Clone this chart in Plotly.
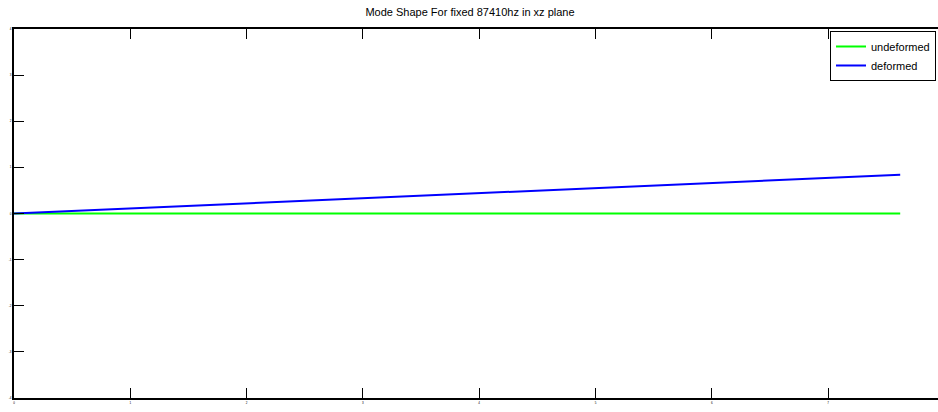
import plotly.graph_objects as go

# data
x_pos = [0.0, 3.81, 7.62]
undeformed = [0.0, 0.0, 0.0]
deformed = [0.0, 0.42, 0.84]
x_ticks = [0, 1, 2, 3, 4, 5, 6, 7]
y_ticks = [-4, -3, -2, -1, 0, 1, 2, 3, 4]

fig = go.Figure()
fig.add_trace(go.Scatter(x=x_pos, y=undeformed, mode="lines", name="undeformed",
                         line=dict(color="#00ff00", width=2)))
fig.add_trace(go.Scatter(x=x_pos, y=deformed, mode="lines", name="deformed",
                         line=dict(color="#0000ff", width=2)))

W, H = 938, 412
fig.update_layout(
    width=W, height=H,
    margin=dict(l=14, r=0, t=29, b=14, autoexpand=False),
    paper_bgcolor="white", plot_bgcolor="white",
    font=dict(family="Liberation Sans, Arial, sans-serif", color="black", size=11),
    title=dict(text="Mode Shape For fixed 87410hz in xz plane", x=470 / W, xanchor="center",
               y=1 - 12 / H, yanchor="middle", font=dict(size=11, color="black")),
    showlegend=True,
    legend=dict(x=(830 - 14) / 924, xanchor="left", y=0.9946, yanchor="top",
                bordercolor="black", borderwidth=1, bgcolor="white",
                font=dict(size=11), tracegroupgap=0),
    xaxis=dict(range=[0, 7.945], tickvals=x_ticks, ticktext=[str(v) for v in x_ticks],
               ticks="inside", ticklen=10, tickcolor="black", tickwidth=1,
               showline=True, linecolor="black", linewidth=2, mirror="ticks",
               showgrid=False, zeroline=False, tickfont=dict(size=3, color="black")),
    yaxis=dict(range=[-4, 4], tickvals=y_ticks, ticktext=[str(v) for v in y_ticks],
               ticks="inside", ticklen=10, tickcolor="black", tickwidth=1,
               showline=True, linecolor="black", linewidth=2, mirror=False,
               showgrid=False, zeroline=False, tickfont=dict(size=3, color="black")),
    yaxis2=dict(range=[-4, 4], overlaying="y", side="right", tickvals=y_ticks,
                showticklabels=False, ticks="inside", ticklen=3, tickcolor="black",
                showline=False, showgrid=False, zeroline=False),
)

fig.write_html(
    "out.html",
    config={"displayModeBar": False},
    post_script="document.body.style.margin='0';document.body.style.overflow='hidden';",
)
